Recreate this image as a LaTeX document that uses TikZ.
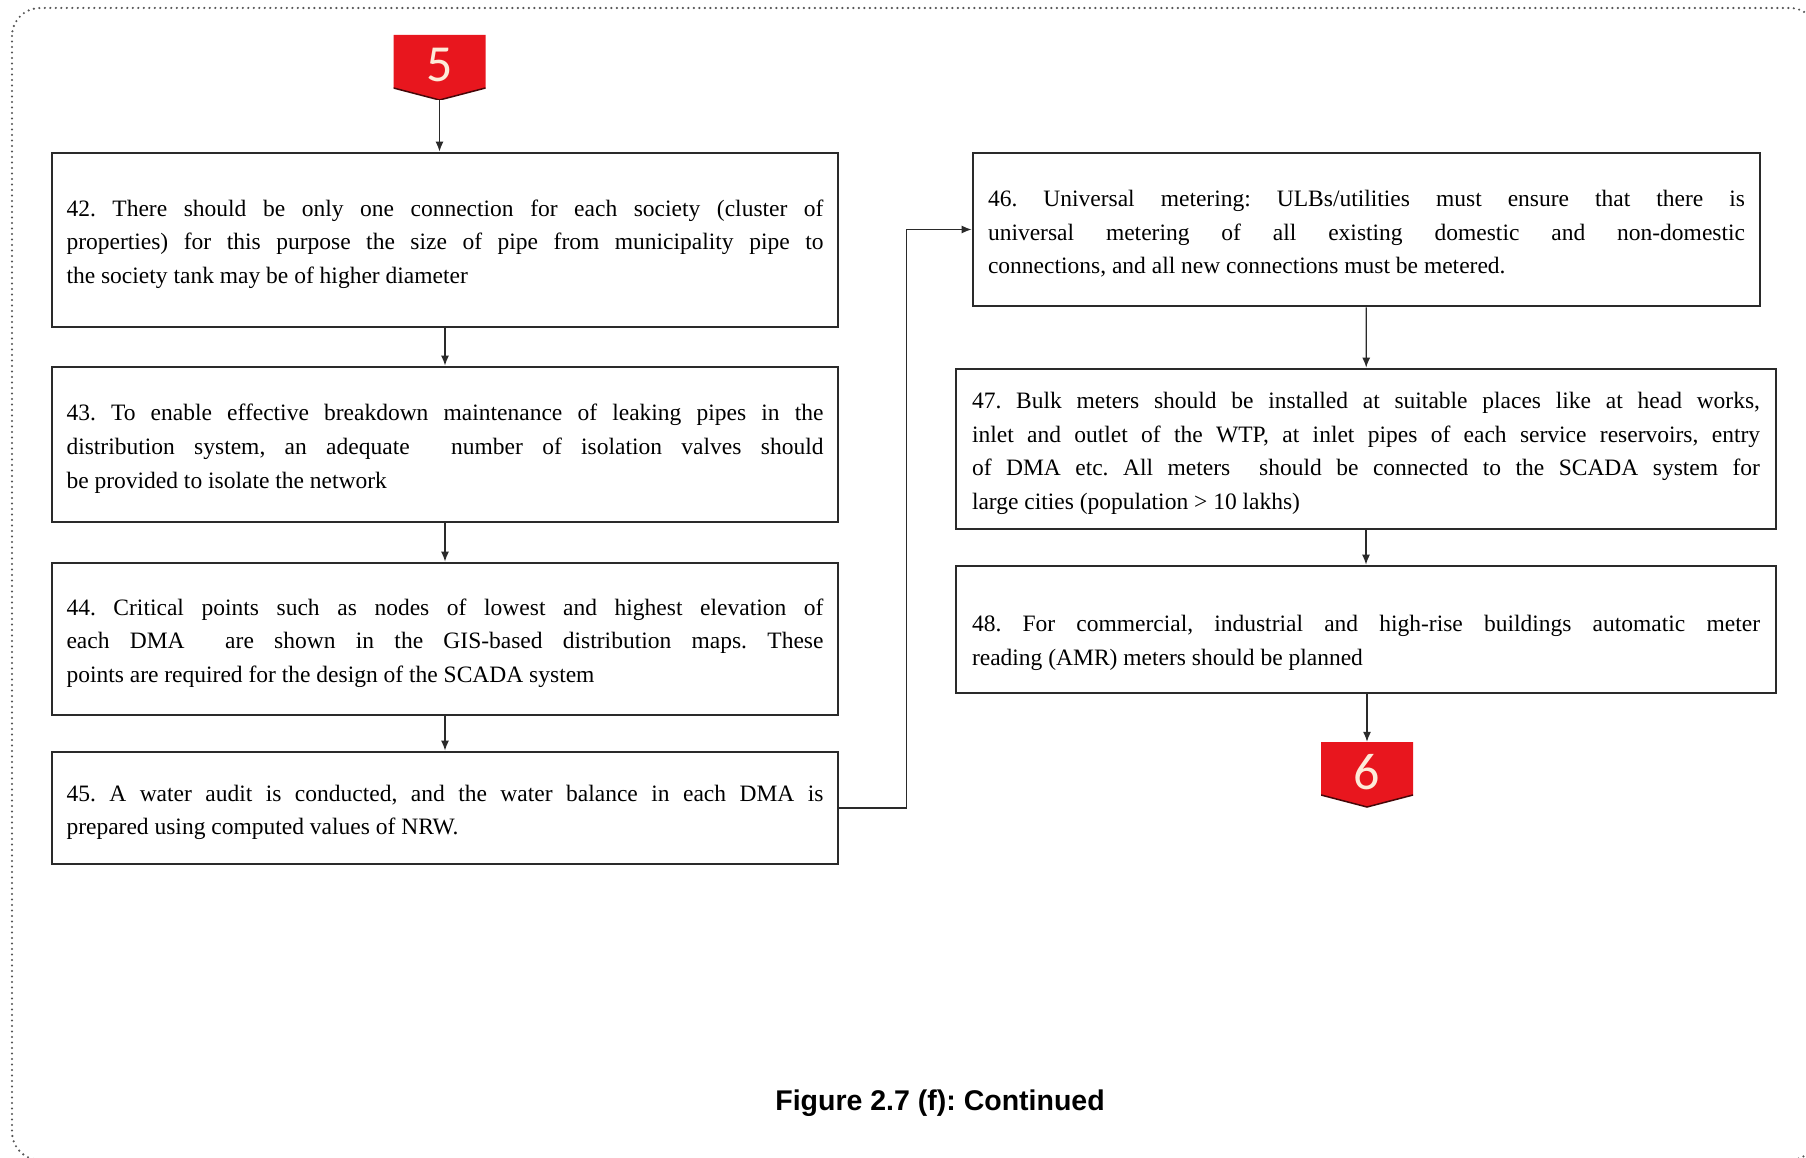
\documentclass[tikz,border=0pt]{standalone}
\usepackage{fontspec}
\setmainfont{Liberation Serif}
\newfontfamily\capfont{Liberation Sans}
\newfontfamily\numfont{Carlito}
\usetikzlibrary{arrows.meta,calc}
\definecolor{markred}{HTML}{E8161E}
\definecolor{numcream}{HTML}{FDEBD9}
\definecolor{boxline}{HTML}{2A2A2A}
\definecolor{dotgray}{HTML}{555555}
\newcommand\boxtext{\fontsize{23.5}{33.7}\selectfont\frenchspacing\tolerance=10000\hyphenpenalty=10000\relax}
\begin{document}
\begin{tikzpicture}[x=1pt,y=-1pt,
  stepbox/.style={draw=boxline,line width=2.8pt,rectangle,inner sep=0pt,align=justify,font=\boxtext,text height=25pt},
  conn/.style={draw=boxline, line width=1.3pt,-{Latex[length=10pt,width=8pt]}},
  marker/.style={rectangle,inner sep=0pt,minimum width=92pt,minimum height=65pt,text=numcream,
    font=\numfont\fontsize{52}{52}\selectfont,text depth=5pt,
    path picture={\fill[markred] (path picture bounding box.north west) -- (path picture bounding box.north east) -- ([yshift=12pt]path picture bounding box.south east) -- (path picture bounding box.south) -- ([yshift=12pt]path picture bounding box.south west) -- cycle;
    \draw[black!70!markred,line width=1.5pt] ([yshift=12pt]path picture bounding box.south east) -- (path picture bounding box.south) -- ([yshift=12pt]path picture bounding box.south west);}},
  ]
\useasboundingbox (0,0) rectangle (1806,1158);
\clip (0,0) rectangle (1806,1158);
\fill[white] (0,0) rectangle (1806,1158);
\draw[dotgray,line width=2.4pt,line cap=round,dash pattern=on 0pt off 5.5pt,rounded corners=28pt] (12,8) rectangle (1818,1160);

% markers
\node[marker] (m5) at (439.5,67.5) {5};
\node[marker] (m6) at (1367,774.5) {6};

% left column
\node[stepbox,text width=757pt,minimum width=786pt,minimum height=174pt] (b42) at (445,240) {42. There should be only one connection for each society (cluster of\linebreak properties) for this purpose the size of pipe from municipality pipe to\linebreak the society tank may be of higher diameter};
\node[stepbox,text width=757pt,minimum width=786pt,minimum height=155pt] (b43) at (445,444.5) {43. To enable effective breakdown maintenance of leaking pipes in the\linebreak distribution system, an adequate\hspace{22pt} number of isolation valves should\linebreak be provided to isolate the network};
\node[stepbox,text width=757pt,minimum width=786pt,minimum height=152pt] (b44) at (445,639) {44. Critical points such as nodes of lowest and highest elevation of\linebreak each DMA\ \ are shown in the GIS-based distribution maps. These\linebreak points are required for the design of the SCADA system};
\node[stepbox,text width=757pt,minimum width=786pt,minimum height=112pt] (b45) at (445,808) {45. A water audit is conducted, and the water balance in each DMA is\linebreak prepared using computed values of NRW.};

% right column
\node[stepbox,text width=757pt,minimum width=787pt,minimum height=153pt] (b46) at (1366.5,229.5) {46. Universal metering: ULBs/utilities must ensure that there is\linebreak universal metering of all existing domestic and non-domestic\linebreak connections, and all new connections must be metered.};
\node[stepbox,text width=788pt,minimum width=820pt,minimum height=160pt] (b47) at (1366,449) {47. Bulk meters should be installed at suitable places like at head works,\linebreak inlet and outlet of the WTP, at inlet pipes of each service reservoirs, entry\linebreak of DMA etc. All meters\ \ should be connected to the SCADA system for\linebreak large cities (population > 10 lakhs)};
\node[stepbox,text width=788pt,minimum width=820pt,minimum height=127pt,text height=43pt] (b48) at (1366,629.5) {48. For commercial, industrial and high-rise buildings automatic meter\linebreak reading (AMR) meters should be planned};

% caption
\node (cap) at (940,1103) {\capfont\bfseries\fontsize{28.5}{33}\selectfont\frenchspacing Figure 2.7 (f): Continued};

% connectors
\draw[conn] (m5.south) -- (m5.south |- b42.north);
\draw[conn] (b42) -- (b43);
\draw[conn] (b43) -- (b44);
\draw[conn] (b44) -- (b45);
\draw[conn] (b45.east) -- ++(67,0) |- (b46.west);
\draw[conn] (b46) -- (b47);
\draw[conn] (b47) -- (b48);
\draw[conn] (b48.south -| m6.north) -- (m6.north);
\end{tikzpicture}
\end{document}
